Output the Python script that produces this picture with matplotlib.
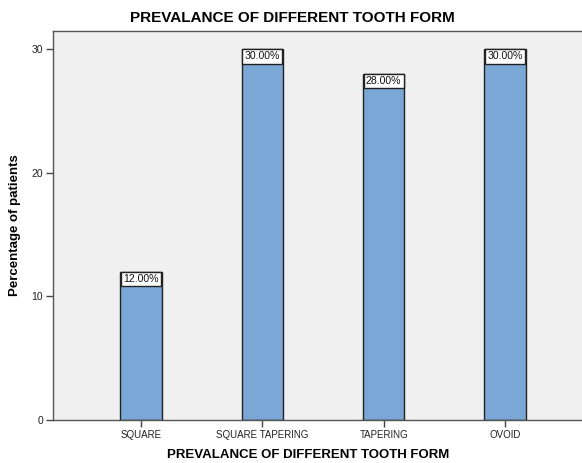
import matplotlib
matplotlib.use("Agg")
import matplotlib.pyplot as plt

categories = ["SQUARE", "SQUARE TAPERING", "TAPERING", "OVOID"]
percentages = [12.0, 30.0, 28.0, 30.0]
yticks = [0, 10, 20, 30]

plt.rcParams["font.family"] = ["Liberation Sans", "DejaVu Sans"]

fig = plt.figure(figsize=(5.82, 4.63), dpi=100)
ax = fig.add_axes([53 / 582, 1 - 420 / 463, (593 - 53) / 582, (420 - 31) / 463])
ax.set_facecolor("#F0F0F0")

x = list(range(len(categories)))
ax.bar(x, percentages, width=0.34, color="#7BA7D7", edgecolor="#222222", linewidth=1.0, zorder=2)

for xi, v in zip(x, percentages):
    ax.text(xi, v - 0.2, f"{v:.2f}%", ha="center", va="top", fontsize=7.6, color="#111111",
            zorder=3,
            bbox=dict(boxstyle="square,pad=0.22", facecolor="white", edgecolor="#222222", linewidth=1.0))

ax.set_xlim(-0.724, 3.724)
ax.set_ylim(0, 31.45)
ax.set_xticks(x)
ax.set_xticklabels(categories, fontsize=7, color="#222222")
ax.set_yticks(yticks)
ax.set_yticklabels([str(t) for t in yticks], fontsize=7.5, color="#222222")
ax.tick_params(axis="both", direction="out", length=5, width=1, color="#444444", pad=2)

for side in ["left", "bottom", "top"]:
    ax.spines[side].set_color("#555555")
    ax.spines[side].set_linewidth(1.0)
ax.spines["right"].set_visible(False)

ax.set_ylabel("Percentage of patients", fontsize=9.5, fontweight="bold", labelpad=8)
ax.set_xlabel("PREVALANCE OF DIFFERENT TOOTH FORM", fontsize=9.5, fontweight="bold")
ax.xaxis.set_label_coords((308 - 53) / (593 - 53), -(455 - 420) / (420 - 31), transform=ax.transAxes)
ax.xaxis.label.set_va("center")
fig.text(292 / 582, 1 - 17.5 / 463, "PREVALANCE OF DIFFERENT TOOTH FORM", ha="center", va="center",
         fontsize=11, fontweight="bold")

fig.savefig("out.png", dpi=100, facecolor="white")
